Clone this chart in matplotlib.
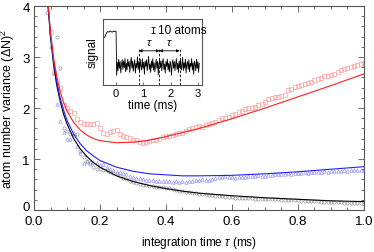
import numpy as np
import matplotlib
matplotlib.use("Agg")
import matplotlib.pyplot as plt
from matplotlib.transforms import ScaledTranslation

plt.rcParams['font.family'] = ['Liberation Sans', 'DejaVu Sans']
plt.rcParams['mathtext.fontset'] = 'custom'
plt.rcParams['mathtext.rm'] = 'Liberation Sans'
plt.rcParams['mathtext.it'] = 'Liberation Sans:italic'

# integration time grid (ms)
tau = np.round(np.arange(0.04, 1.005, 0.01), 2)

red_pts = [4.60, 3.49, 2.71, 2.55, 2.40, 2.05, 2.00, 1.95, 1.90, 1.79,
           1.72, 1.69, 1.68, 1.68, 1.69, 1.70, 1.60, 1.52, 1.50, 1.53,
           1.55, 1.57, 1.49, 1.46, 1.44, 1.41, 1.38, 1.37, 1.34, 1.32,
           1.33, 1.35, 1.37, 1.38, 1.40, 1.44, 1.46, 1.45, 1.47, 1.49,
           1.51, 1.52, 1.55, 1.58, 1.60, 1.62, 1.64, 1.63, 1.66, 1.69,
           1.70, 1.72, 1.76, 1.80, 1.81, 1.83, 1.86, 1.88, 1.92, 1.94,
           1.98, 2.00, 2.01, 2.03, 2.05, 2.08, 2.12, 2.17, 2.20, 2.22,
           2.21, 2.23, 2.26, 2.36, 2.38, 2.41, 2.43, 2.46, 2.48, 2.50,
           2.52, 2.55, 2.57, 2.59, 2.62, 2.63, 2.65, 2.67, 2.70, 2.74,
           2.77, 2.78, 2.80, 2.83, 2.85, 2.87, 2.89]

blue_pts = [3.88, 3.22, 2.69, 2.07, 1.74, 1.53, 1.40, 1.39, 1.52, 1.25,
            1.11, 0.93, 0.96, 0.94, 0.95, 0.93, 0.88, 0.90, 0.84, 0.80,
            0.78, 0.75, 0.74, 0.72, 0.70, 0.67, 0.65, 0.63, 0.62, 0.60,
            0.59, 0.58, 0.58, 0.57, 0.57, 0.56, 0.56, 0.56, 0.55, 0.56,
            0.55, 0.56, 0.55, 0.56, 0.57, 0.58, 0.59, 0.60, 0.58, 0.59,
            0.61, 0.62, 0.64, 0.65, 0.66, 0.65, 0.64, 0.63, 0.64, 0.65,
            0.64, 0.66, 0.67, 0.66, 0.68, 0.67, 0.66, 0.68, 0.69, 0.70,
            0.71, 0.70, 0.71, 0.72, 0.71, 0.73, 0.72, 0.73, 0.74, 0.73,
            0.74, 0.75, 0.74, 0.75, 0.76, 0.75, 0.76, 0.77, 0.76, 0.77,
            0.78, 0.77, 0.78, 0.79, 0.78, 0.79, 0.78]

black_pts = [4.50, 4.20, 4.30, 3.40, 2.79, 1.60, 1.55, 1.50, 1.45, 1.50,
             1.15, 1.04, 0.97, 0.90, 0.85, 0.81, 0.80, 0.79, 0.78, 0.75,
             0.73, 0.71, 0.67, 0.63, 0.61, 0.57, 0.54, 0.52, 0.51, 0.50,
             0.49, 0.48, 0.47, 0.46, 0.45, 0.45, 0.44, 0.43, 0.41, 0.40,
             0.38, 0.37, 0.36, 0.35, 0.34, 0.33, 0.32, 0.31, 0.31, 0.30,
             0.29, 0.28, 0.27, 0.27, 0.26, 0.25, 0.25, 0.24, 0.24, 0.24,
             0.23, 0.23, 0.23, 0.22, 0.22, 0.22, 0.22, 0.21, 0.21, 0.21,
             0.21, 0.20, 0.20, 0.20, 0.19, 0.19, 0.19, 0.18, 0.18, 0.18,
             0.17, 0.17, 0.17, 0.16, 0.16, 0.16, 0.15, 0.15, 0.15, 0.15,
             0.14, 0.14, 0.14, 0.13, 0.13, 0.13, 0.12]

# fitted curves
fit_x = [0.042, 0.05, 0.06, 0.07, 0.08, 0.09, 0.10, 0.12, 0.14, 0.16, 0.18,
         0.20, 0.25, 0.30, 0.35, 0.40, 0.45, 0.50, 0.60, 0.70, 0.80, 0.90, 1.00]
red_fit = [4.08, 3.48, 2.95, 2.58, 2.31, 2.10, 1.94, 1.72, 1.57, 1.47, 1.40,
           1.36, 1.32, 1.33, 1.37, 1.44, 1.52, 1.60, 1.79, 2.00, 2.22, 2.44, 2.67]
blue_fit = [4.09, 3.44, 2.88, 2.48, 2.18, 1.95, 1.76, 1.49, 1.30, 1.16, 1.06,
            0.97, 0.84, 0.76, 0.71, 0.69, 0.67, 0.67, 0.68, 0.71, 0.75, 0.80, 0.85]
black_fit = [4.02, 3.38, 2.81, 2.41, 2.11, 1.87, 1.69, 1.40, 1.20, 1.05, 0.93,
             0.84, 0.67, 0.56, 0.48, 0.42, 0.37, 0.33, 0.28, 0.24, 0.21, 0.18, 0.165]

# inset signal trace (atoms)
pre_t = [-0.42, -0.38, -0.34, -0.30, -0.26, -0.22, -0.18, -0.14, -0.10, -0.06, -0.02, 0.0]
pre_sig = [47, 52, 56, 57, 56, 58, 57, 56, 58, 57, 58, 57]
noise = [-16, 6, -8, 11, -4, 7, -12, 3, 10, -6, 8, -3, 12, -10, 4, -7, 11, -1, 7, -11,
         5, 14, -4, 8, -9, 3, 10, -12, 4, -3, 15, -6, 7, -10, 11, 0, -7, 12, -4, 6,
         -14, 8, -1, 10, -8, 4, 16, -6, 3, -11, 8, -3, 12, -7, 5, -10, 1, 11, -4, 7,
         -15, 4, 10, -3, 8, -8, 6, 12, -6, 3, -12, 7, -1, 11, -7, 4, -10, 8, 1, -16,
         5, 10, -4, 7, -8, 3, 12, -6, 4, -11, 8, -3, 10, -7, 1, 14, -8, 5, -4, 11,
         -12, 3, 7, -6, 10, -10, 4, -1, 12, -7, 5, -14, 8, 3, -8, 11, -4, 7, -11, 4]
marks = [0.84, 1.59, 2.33]

fig = plt.figure(figsize=(3.74, 2.53), dpi=100)
ax = fig.add_axes([0.091, 0.166, 0.882, 0.806])

ax.plot(tau, red_pts, 's', ms=2.5, mfc='none', mec='#ffa0a0', mew=0.5)
ax.plot(tau, blue_pts, '^', ms=2.5, mfc='none', mec='#9696ff', mew=0.5)
ax.plot(tau, black_pts, 'o', ms=2.3, mfc='none', mec='#999999', mew=0.5)
ax.plot(fit_x, black_fit, color='black', lw=0.8)
ax.plot(fit_x, blue_fit, color='#2020ff', lw=0.8)
ax.plot(fit_x, red_fit, color='#ff2020', lw=0.8)

ax.set_xlim(0, 1.0)
ax.set_ylim(0, 4)
ax.set_xticks([0, 0.2, 0.4, 0.6, 0.8, 1.0])
ax.set_xticks(np.arange(0, 1.001, 0.05), minor=True)
ax.set_yticks([0, 1, 2, 3, 4])
ax.set_yticks(np.arange(0, 4.001, 0.2), minor=True)
ax.set_xticklabels(['0.0', '0.2', '0.4', '0.6', '0.8', '1.0'])
ax.tick_params(which='both', direction='in', top=True, right=True,
               color='#555555', width=0.6, labelsize=9.5)
ax.tick_params(axis='x', pad=3.5)
ax.tick_params(axis='y', pad=3)
ax.tick_params(which='major', length=4)
ax.tick_params(which='minor', length=2)
for s in ax.spines.values():
    s.set_color('#555555')
    s.set_linewidth(0.8)
ax.set_xlabel(r'integration time $\tau$ (ms)', fontsize=8.5, labelpad=5)
ax.set_ylabel(r'atom number variance ($\Delta$N)$^2$', fontsize=9, labelpad=4)

# nudge the y "0" label up so it clears the x "0.0"
lab0 = ax.yaxis.get_major_ticks()[0].label1
lab0.set_transform(lab0.get_transform() + ScaledTranslation(0, 3 / 72, fig.dpi_scale_trans))

# inset
ins = fig.add_axes([0.2754, 0.660, 0.2647, 0.261])
t_post = np.linspace(0.02, 3.05, len(noise))
ins.plot(pre_t + list(t_post), pre_sig + noise, color='black', lw=0.6)
ins.set_xlim(-0.48, 3.15)
ins.set_ylim(-32, 78)
ins.set_yticks([])
ins.set_xticks([0, 1, 2, 3])
ins.tick_params(direction='in', length=2.5, width=0.6, labelsize=8, pad=2,
                color='#555555')
for s in ins.spines.values():
    s.set_color('#555555')
    s.set_linewidth(0.8)
ins.set_xlabel('time (ms)', fontsize=8.5, labelpad=1)
ins.set_ylabel('signal', fontsize=8.5, labelpad=3)

for m in marks:
    ins.plot([m, m], [-32, 30], color='black', lw=0.6, ls=(0, (3, 2)))
for a, b in zip(marks[:-1], marks[1:]):
    ins.annotate('', xy=(a, 25), xytext=(b, 25),
                 arrowprops=dict(arrowstyle='<|-|>', lw=0.6, color='black',
                                 mutation_scale=4, shrinkA=0, shrinkB=0))
    ins.text((a + b) / 2, 31, r'$\tau$', fontsize=8, ha='center', va='bottom')

ins.errorbar([1.35], [60], yerr=[5], color='black', lw=0.6, capsize=1.5, capthick=0.6)
ins.text(1.55, 60, '10 atoms', fontsize=8.5, va='center', ha='left')

fig.savefig('out.png', dpi=100)
